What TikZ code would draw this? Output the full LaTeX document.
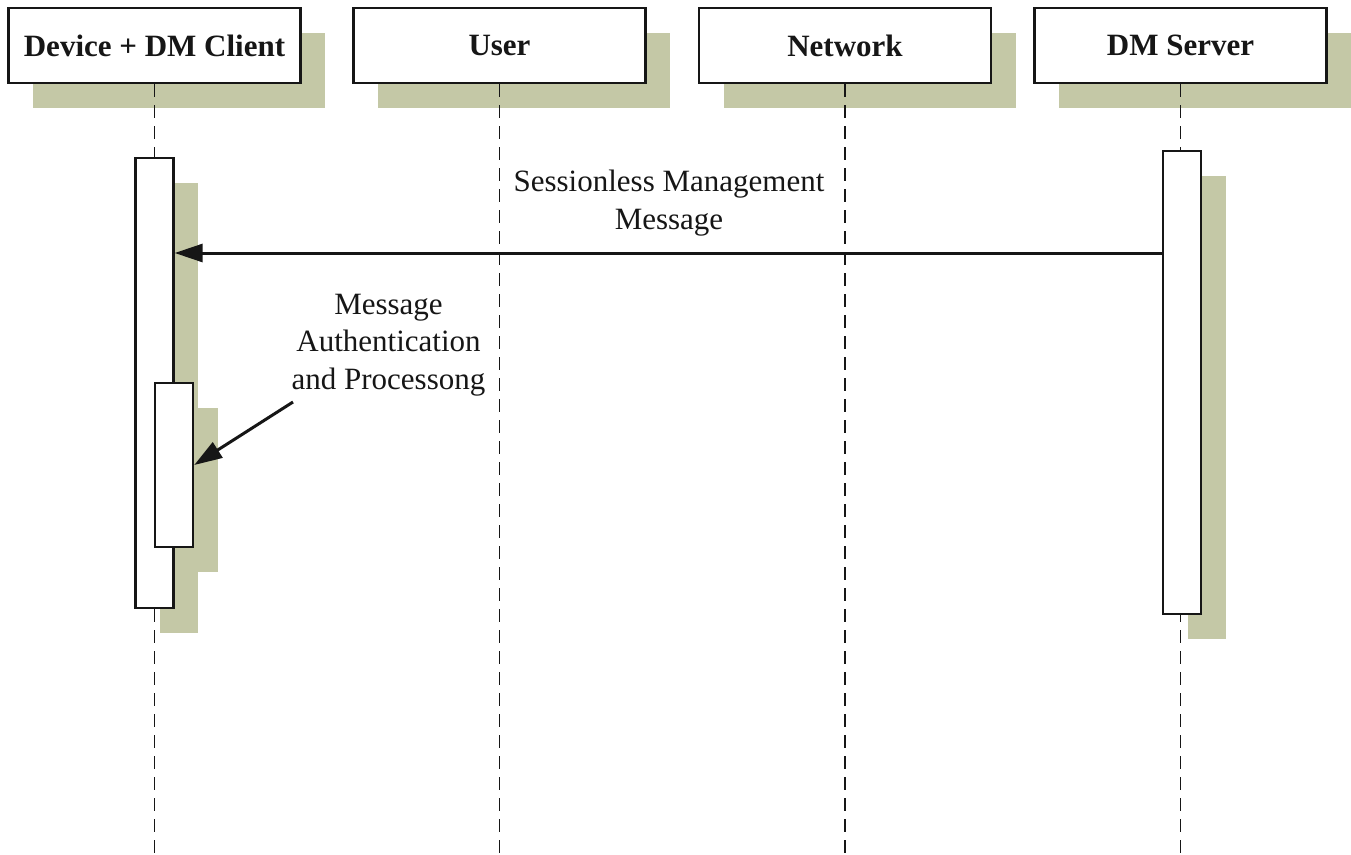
\documentclass[tikz,border=0pt]{standalone}
\usepackage{fontspec}
\setmainfont{Liberation Serif}
\usetikzlibrary{arrows.meta,shadows}
\definecolor{shd}{RGB}{196,200,166}
\definecolor{ink}{RGB}{22,22,22}
\begin{document}
\begin{tikzpicture}[x=1pt,y=-1pt,
  shd/.style={drop shadow={shadow xshift=24.5pt,shadow yshift=-24.5pt,fill=shd,opacity=1}},
  header/.style={draw=ink,line width=2.4pt,fill=white,shd,minimum width=292pt,minimum height=75pt,inner sep=0pt,
    text=ink,font=\fontsize{31}{37}\selectfont\bfseries},
  actbox/.style={draw=ink,line width=2.4pt,fill=white,shd,minimum width=38pt,inner sep=0pt},
  lifeline/.style={draw=ink,line width=1.9pt,dash pattern=on 13pt off 8pt},
  msg/.style={draw=ink,line width=3pt,-{Triangle[length=28pt,width=18pt]}},
  lbl/.style={text=ink,align=center,inner sep=0pt,font=\fontsize{31}{37.5}\selectfont}]
\useasboundingbox (0,0) rectangle (1351,854);
% headers
\node[header] (dev) at (154.5,45.5) {Device + DM Client};
\node[header] (usr) at (499.5,45.5) {User};
\node[header] (net) at (845,45.5) {Network};
\node[header] (srv) at (1180.5,45.5) {DM Server};
% lifeline ends
\coordinate (devend) at (154.5,854);
\coordinate (usrend) at (499.5,854);
\coordinate (netend) at (845,854);
\coordinate (srvend) at (1180.5,854);
\draw[lifeline] (dev.south) -- (devend);
\draw[lifeline] (usr.south) -- (usrend);
\draw[lifeline] (net.south) -- (netend);
\draw[lifeline] (srv.south) -- (srvend);
% activations
\node[actbox,minimum height=450pt] (act1) at (154.5,383) {};
\node[actbox,minimum height=164pt] (act2) at (174,465) {};
\node[actbox,minimum height=463pt] (act3) at (1182,382.5) {};
% messages
\coordinate (m1) at (0,253);
\draw[msg] (act3.west |- m1) -- (act1.east |- m1);
\node[lbl] (l1) at (669,203) {Sessionless Management\\Message};
\node[lbl] (l2) at (388.5,345) {Message\\Authentication\\and Processong};
\coordinate (a2) at (293,402);
\draw[msg] (a2) -- (act2.east);
\end{tikzpicture}
\end{document}
